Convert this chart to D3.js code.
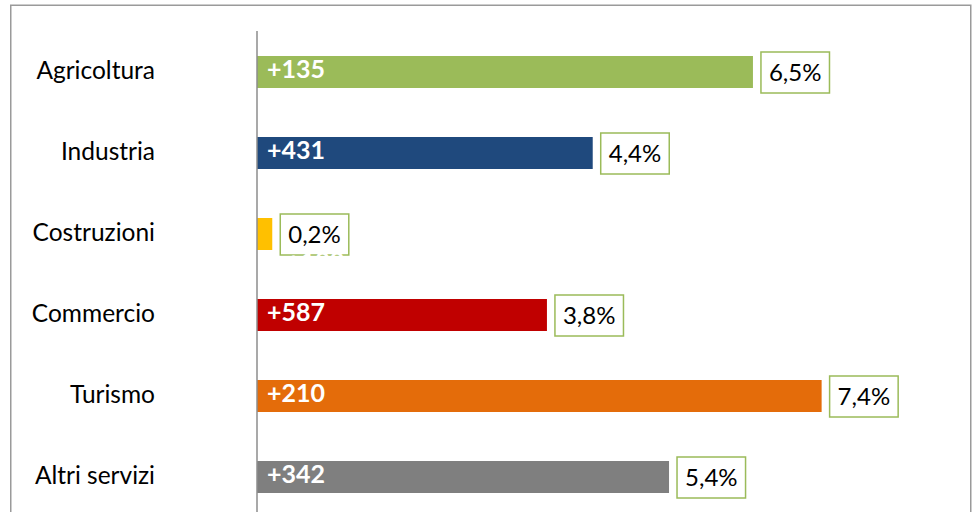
<!DOCTYPE html>
<html>
<head>
<meta charset="utf-8">
<script src="https://cdn.jsdelivr.net/npm/d3@7"></script>
<style>
  html, body { margin: 0; padding: 0; background: #fff; }
  svg { display: block; font-family: Lato, "Open Sans", sans-serif; }
</style>
</head>
<body>
<div id="chart"></div>
<script>
(function() {
    'use strict';

    // Dati
    var categorie = ['Agricoltura', 'Industria', 'Costruzioni', 'Commercio', 'Turismo', 'Altri servizi'];
    var variazioni = ['+135', '+431', '+120', '+587', '+210', '+342'];
    var percentuali = [6.5, 4.4, 0.2, 3.8, 7.4, 5.4];
    var colori = ['#9bbb59', '#1f497d', '#ffc000', '#c00000', '#e46c0a', '#7f7f7f'];

    var width = 972, height = 512;
    var axisX = 257;
    var barH = 32;

    var svg = d3.select('#chart').append('svg')
        .attr('width', width)
        .attr('height', height);

    // Cornice
    svg.append('rect')
        .attr('x', 10.75).attr('y', 5.25)
        .attr('width', 960).attr('height', 540)
        .attr('fill', '#fff')
        .attr('stroke', '#9a9a9a')
        .attr('stroke-width', 1.5);

    var y = d3.scalePoint().domain(categorie).range([72, 477]);
    var x = d3.scaleLinear().domain([0, 8]).range([axisX, axisX + 8 * 76.3]);

    var rows = categorie.map(function(c, i) {
        return { cat: c, lab: variazioni[i], pct: percentuali[i], col: colori[i] };
    });

    // Etichette categorie
    svg.append('g').selectAll('text')
        .data(rows)
        .join('text')
        .attr('x', 155)
        .attr('y', function(d) { return y(d.cat) + 7; })
        .attr('text-anchor', 'end')
        .attr('font-size', '24.5px')
        .attr('fill', '#000')
        .text(function(d) { return d.cat; });

    // Barre
    svg.append('g').selectAll('rect')
        .data(rows)
        .join('rect')
        .attr('x', x(0))
        .attr('y', function(d) { return y(d.cat) - barH / 2; })
        .attr('width', function(d) { return x(d.pct) - x(0); })
        .attr('height', barH)
        .attr('fill', function(d) { return d.col; });

    // Asse verticale
    svg.append('line')
        .attr('x1', axisX).attr('x2', axisX)
        .attr('y1', 31).attr('y2', height)
        .attr('stroke', '#8c8c8c')
        .attr('stroke-width', 1.5);

    // Box percentuali
    var boxes = svg.append('g').selectAll('g')
        .data(rows)
        .join('g');

    boxes.each(function(d) {
        var g = d3.select(this);
        var bx = x(d.pct) + 8;
        var rect = g.append('rect')
            .attr('y', y(d.cat) - 20)
            .attr('height', 41)
            .attr('fill', '#fff')
            .attr('stroke', '#9bbb59')
            .attr('stroke-width', 1.5);
        var t = g.append('text')
            .attr('y', y(d.cat) + 9)
            .attr('font-size', '24px')
            .attr('fill', '#000')
            .text(String(d.pct.toFixed(1)).replace('.', ',') + '%');
        var w = t.node().getComputedTextLength();
        rect.attr('x', bx).attr('width', w + 16);
        t.attr('x', bx + 8);
    });

    // Etichette variazioni (bianche, dentro le barre)
    svg.append('g').selectAll('text')
        .data(rows)
        .join('text')
        .attr('x', function(d) { return d.pct < 1 ? x(d.pct) + 14 : axisX + 10; })
        .attr('y', function(d) { return d.pct < 1 ? y(d.cat) + 36 : y(d.cat) + 6; })
        .attr('font-size', '25px')
        .attr('font-weight', 700)
        .attr('fill', '#fff')
        .text(function(d) { return d.lab; });
})();
</script>
</body>
</html>
